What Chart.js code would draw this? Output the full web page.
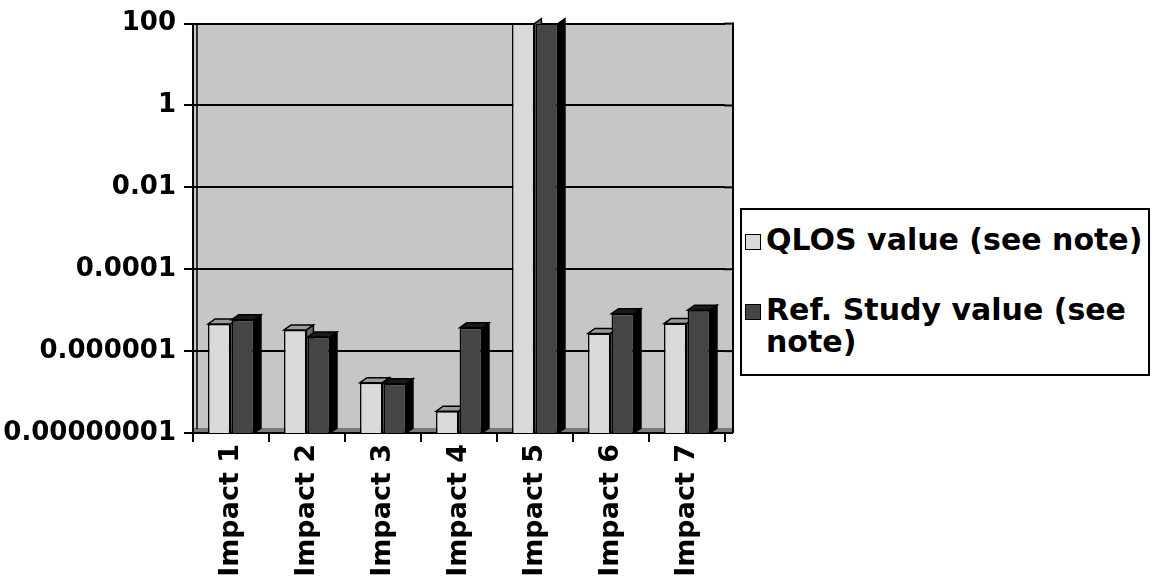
<!DOCTYPE html>
<html>
<head>
<meta charset="utf-8">
<script src="https://cdn.jsdelivr.net/npm/chart.js@4.4.1/dist/chart.umd.min.js"></script>
<style>
  html, body { margin: 0; padding: 0; background: #ffffff; }
  #wrap { position: relative; width: 1155px; height: 579px; }
  #chart { position: absolute; left: 0; top: 0; }
  #legend {
    position: absolute; left: 740px; top: 208px; width: 410px; height: 168px;
    border: 2px solid #000; box-sizing: border-box; background: #fff;
    font-family: "DejaVu Sans", sans-serif; font-weight: bold; font-size: 30px; color: #000;
  }
  .item { position: absolute; left: 3px; display: flex; align-items: flex-start; line-height: 32px; }
  .mark { width: 14px; height: 14px; border: 1px solid #000; margin-top: 10px; margin-right: 5px; flex: none; }
</style>
</head>
<body>
<div id="wrap">
  <canvas id="chart" width="1155" height="579"></canvas>
  <div id="legend"></div>
</div>
<script>
// ---- data ----
const categories = ["Impact 1", "Impact 2", "Impact 3", "Impact 4", "Impact 5", "Impact 6", "Impact 7"];
const qlosValues = [4.6e-6, 3.3e-6, 1.7e-7, 3.4e-8, 100, 2.7e-6, 4.7e-6];
const refValues  = [5.8e-6, 2.2e-6, 1.6e-7, 3.7e-6, 100, 8.2e-6, 1.0e-5];
const seriesNames = ["QLOS value (see note)", "Ref. Study value (see note)"];
const yTickValues = [1e-8, 1e-6, 1e-4, 1e-2, 1, 100];
const yTickLabels = ["0.00000001", "0.000001", "0.0001", "0.01", "1", "100"];

const DEPTH_X = 7, DEPTH_Y = 5, WALL_EXTRA = 8;

function drawDepth(chart, meta, isRef) {
  const { ctx, chartArea: a } = chart;
  ctx.save();
  ctx.beginPath();
  ctx.rect(a.left, a.top - 20, a.right - a.left + 20, a.bottom - a.top + 20);
  ctx.clip();
  ctx.strokeStyle = '#000'; ctx.lineWidth = 1.5;
  meta.data.forEach(bar => {
    const p = bar.getProps(['x', 'y', 'base', 'width'], true);
    const l = p.x - p.width / 2, r = p.x + p.width / 2;
    const top = Math.max(p.y, a.top);
    ctx.fillStyle = isRef ? '#000000' : '#6a6a6a';
    ctx.beginPath();
    ctx.moveTo(r, top); ctx.lineTo(r + DEPTH_X, top - DEPTH_Y);
    ctx.lineTo(r + DEPTH_X, p.base - DEPTH_Y); ctx.lineTo(r, p.base);
    ctx.closePath(); ctx.fill(); ctx.stroke();
    if (p.y > a.top + 2) {
      ctx.fillStyle = isRef ? '#1a1a1a' : '#9a9a9a';
      ctx.beginPath();
      ctx.moveTo(l, top); ctx.lineTo(l + DEPTH_X, top - DEPTH_Y);
      ctx.lineTo(r + DEPTH_X, top - DEPTH_Y); ctx.lineTo(r, top);
      ctx.closePath(); ctx.fill(); ctx.stroke();
    }
  });
  ctx.restore();
}

const wallPlugin = {
  id: 'wall',
  beforeDraw(chart) {
    const { ctx, chartArea: a } = chart;
    ctx.save();
    ctx.fillStyle = '#c6c6c6';
    ctx.fillRect(a.left, a.top, a.right - a.left + WALL_EXTRA, a.bottom - a.top);
    ctx.fillStyle = '#7a7a7a';
    ctx.fillRect(a.left, a.bottom - 5, a.right - a.left + WALL_EXTRA, 5);
    ctx.restore();
  },
  beforeDatasetsDraw(chart) {
    const { ctx, chartArea: a, scales } = chart;
    const ys = scales.y;
    ctx.save();
    ctx.strokeStyle = '#000';
    ctx.lineWidth = 2;
    yTickValues.forEach(v => {
      const y = ys.getPixelForValue(v);
      ctx.beginPath(); ctx.moveTo(a.right - 1, y); ctx.lineTo(a.right + WALL_EXTRA, y); ctx.stroke();
    });
    ctx.beginPath(); ctx.moveTo(a.right + WALL_EXTRA, a.top - 1); ctx.lineTo(a.right + WALL_EXTRA, a.bottom); ctx.stroke();
    ctx.lineWidth = 1.5;
    ctx.beginPath(); ctx.moveTo(a.left + 4, a.top); ctx.lineTo(a.left + 4, a.bottom - 4); ctx.stroke();
    ctx.restore();
    // QLOS depth faces first, so the Ref bars' front faces cover them
    drawDepth(chart, chart.getDatasetMeta(0), false);
  },
  afterDatasetsDraw(chart) {
    drawDepth(chart, chart.getDatasetMeta(1), true);
  }
};

const chart = new Chart(document.getElementById('chart'), {
  type: 'bar',
  data: {
    labels: categories,
    datasets: [
      { label: seriesNames[0], data: qlosValues, backgroundColor: '#dadada', borderColor: '#000', borderWidth: 1.5 },
      { label: seriesNames[1], data: refValues, backgroundColor: '#454545', borderColor: '#000', borderWidth: 1.5 }
    ]
  },
  options: {
    responsive: false,
    animation: false,
    layout: { padding: { left: 0, right: 430, top: 17, bottom: 0 } },
    datasets: { bar: { categoryPercentage: 0.62, barPercentage: 0.95 } },
    plugins: { legend: { display: false }, tooltip: { enabled: false } },
    scales: {
      x: {
        grid: { display: true, drawOnChartArea: false, color: '#000', lineWidth: 2, tickLength: 9, offset: true },
        border: { display: true, color: '#000', width: 2 },
        ticks: {
          color: '#000', minRotation: 90, maxRotation: 90, padding: 2, autoSkip: false,
          font: { family: 'DejaVu Sans', weight: 'bold', size: 27 }
        },
        afterFit(scale) { scale.height = 146; }
      },
      y: {
        type: 'logarithmic',
        min: yTickValues[0],
        max: yTickValues[yTickValues.length - 1],
        grid: { color: '#000', lineWidth: 2, tickLength: 9 },
        border: { display: true, color: '#000', width: 2 },
        afterBuildTicks(scale) { scale.ticks = yTickValues.map(v => ({ value: v })); },
        ticks: {
          color: '#000', padding: 8,
          font: { family: 'DejaVu Sans', weight: 'bold', size: 26 },
          callback(value) { const i = yTickValues.findIndex(t => Math.abs(t - value) / t < 1e-6); return i >= 0 ? yTickLabels[i] : ''; }
        },
        afterFit(scale) { scale.width = 193; }
      }
    }
  },
  plugins: [wallPlugin]
});

// HTML legend built from datasets
const legend = document.getElementById('legend');
const tops = [14, 84];
chart.data.datasets.forEach((ds, i) => {
  const item = document.createElement('div');
  item.className = 'item';
  item.style.top = tops[i] + 'px';
  item.style.width = '400px';
  const m = document.createElement('span');
  m.className = 'mark';
  m.style.background = ds.backgroundColor;
  const t = document.createElement('span');
  t.textContent = ds.label;
  item.appendChild(m); item.appendChild(t);
  legend.appendChild(item);
});
</script>
</body>
</html>
